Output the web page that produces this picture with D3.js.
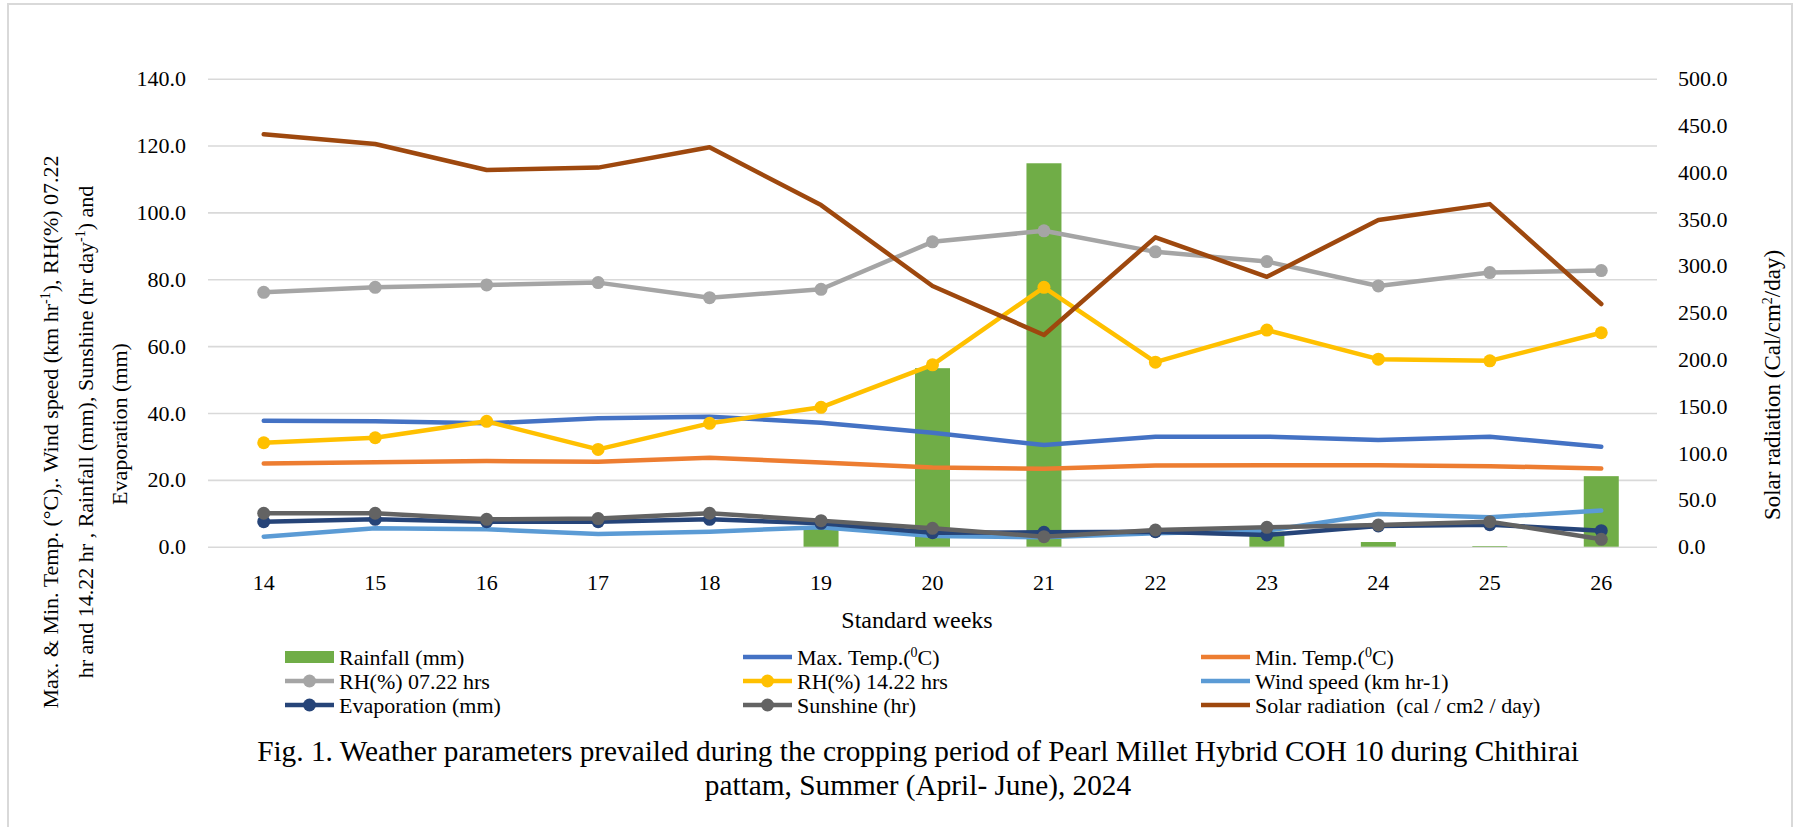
<!DOCTYPE html>
<html>
<head>
<meta charset="utf-8">
<script src="https://cdn.jsdelivr.net/npm/d3@7"></script>
<style>
  html, body { margin: 0; padding: 0; background: #fff; }
</style>
</head>
<body>
<svg id="chart" width="1807" height="827"></svg>
<script>
// Standard weeks (April - June 2024)
const weeks = ["14", "15", "16", "17", "18", "19", "20", "21", "22", "23", "24", "25", "26"];

// Weekly weather parameters
const rainfall    = [0, 0, 0, 0, 0, 5.5, 53.4, 114.7, 0, 4.5, 1.4, 0.2, 21.1];
const maxTemp     = [37.7, 37.5, 36.9, 38.4, 38.9, 37.1, 34.1, 30.4, 32.9, 32.9, 31.9, 32.9, 29.9];
const minTemp     = [24.9, 25.3, 25.6, 25.4, 26.6, 25.2, 23.7, 23.3, 24.3, 24.4, 24.4, 24.1, 23.4];
const rhMorning   = [76.1, 77.6, 78.3, 79.0, 74.5, 77.0, 91.2, 94.5, 88.2, 85.3, 78.0, 82.0, 82.6];
const rhEvening   = [31.1, 32.6, 37.5, 29.1, 36.9, 41.7, 54.4, 77.6, 55.2, 64.8, 56.1, 55.6, 64.0];
const windSpeed   = [3.0, 5.5, 5.2, 3.8, 4.5, 5.8, 3.2, 2.8, 4.0, 4.8, 9.8, 8.8, 10.8];
const evaporation = [7.5, 8.2, 7.5, 7.5, 8.2, 7.0, 4.2, 4.3, 4.5, 3.5, 6.2, 6.6, 4.8];
const sunshine    = [10.0, 10.0, 8.2, 8.4, 10.0, 7.8, 5.5, 3.0, 5.0, 5.8, 6.5, 7.5, 2.2];
const solarRad    = [440.6, 430.2, 402.4, 405.0, 426.7, 365.0, 278.5, 226.2, 330.5, 288.4, 349.0, 366.0, 259.3];

// Axis tick values
const leftTicks  = [0, 20, 40, 60, 80, 100, 120, 140];
const rightTicks = [0, 50, 100, 150, 200, 250, 300, 350, 400, 450, 500];

const SERIF = "'Liberation Serif', 'DejaVu Serif', 'Noto Serif', 'Times New Roman', Times, serif";
const FONT = 22;

const svg = d3.select("#chart")
  .attr("font-family", SERIF)
  .style("font-family", SERIF);

// outer frame
svg.append("rect")
  .attr("x", 8).attr("y", 4).attr("width", 1784).attr("height", 900)
  .attr("fill", "#fff").attr("stroke", "#d9d9d9").attr("stroke-width", 2);

const plot = { left: 208, right: 1657, top: 78.7, bottom: 546.7 };

const x = d3.scaleBand().domain(weeks).range([plot.left, plot.right]);
const xBar = d3.scaleBand().domain(weeks).range([plot.left, plot.right])
  .paddingInner(0.686).paddingOuter(0.343);
const yL = d3.scaleLinear().domain([0, 140]).range([plot.bottom, plot.top]);
const yR = d3.scaleLinear().domain([0, 500]).range([plot.bottom, plot.top]);
const cx = w => x(w) + x.bandwidth() / 2;

function styleAxisText(g) {
  g.select(".domain").remove();
  g.attr("font-family", SERIF).attr("font-size", FONT);
  g.selectAll("text").attr("fill", "#000").style("font-family", SERIF).attr("font-size", FONT);
}

// horizontal gridlines
svg.append("g")
  .attr("transform", `translate(${plot.left},0)`)
  .call(d3.axisLeft(yL).tickValues(leftTicks).tickSize(-(plot.right - plot.left)).tickFormat(""))
  .call(g => g.select(".domain").remove())
  .call(g => g.selectAll("line").attr("stroke", "#d9d9d9").attr("stroke-width", 1.6));

// left axis labels
svg.append("g")
  .attr("transform", `translate(${plot.left},0)`)
  .call(d3.axisLeft(yL).tickValues(leftTicks).tickSize(0).tickPadding(22).tickFormat(d3.format(".1f")))
  .call(styleAxisText);

// right axis labels
svg.append("g")
  .attr("transform", `translate(${plot.right},0)`)
  .call(d3.axisRight(yR).tickValues(rightTicks).tickSize(0).tickPadding(21).tickFormat(d3.format(".1f")))
  .call(styleAxisText);

// bottom axis labels
svg.append("g")
  .attr("transform", `translate(0,${plot.bottom})`)
  .call(d3.axisBottom(x).tickSize(0).tickPadding(28))
  .call(styleAxisText);

// rainfall bars
svg.append("g").selectAll("rect")
  .data(rainfall)
  .join("rect")
  .attr("x", (d, i) => xBar(weeks[i]))
  .attr("width", xBar.bandwidth())
  .attr("y", d => yL(d))
  .attr("height", d => yL(0) - yL(d))
  .attr("fill", "#70ad47");

// line series
const series = [
  { values: maxTemp, color: "#4472c4", marker: false, scale: yL },
  { values: minTemp, color: "#ed7d31", marker: false, scale: yL },
  { values: rhMorning, color: "#a5a5a5", marker: true, scale: yL },
  { values: rhEvening, color: "#ffc000", marker: true, scale: yL },
  { values: windSpeed, color: "#5b9bd5", marker: false, scale: yL },
  { values: evaporation, color: "#264478", marker: true, scale: yL },
  { values: sunshine, color: "#636363", marker: true, scale: yL },
  { values: solarRad, color: "#9e480e", marker: false, scale: yR }
];

series.forEach(s => {
  const line = d3.line().x((d, i) => cx(weeks[i])).y(d => s.scale(d));
  const g = svg.append("g");
  g.append("path")
    .attr("d", line(s.values))
    .attr("fill", "none")
    .attr("stroke", s.color)
    .attr("stroke-width", 4.5)
    .attr("stroke-linejoin", "round")
    .attr("stroke-linecap", "round");
  if (s.marker) {
    g.selectAll("circle").data(s.values).join("circle")
      .attr("cx", (d, i) => cx(weeks[i]))
      .attr("cy", d => s.scale(d))
      .attr("r", 6.5)
      .attr("fill", s.color);
  }
});

// text with superscript parts
function fillParts(t, parts) {
  parts.forEach(p => {
    const s = t.append("tspan").text(p.t);
    if (p.sup) s.attr("font-size", 14).attr("dy", -8);
    if (p.after) s.attr("dy", 8);
  });
  return t;
}
function rotatedLine(xPos, yPos, parts, size) {
  const t = svg.append("text")
    .attr("transform", `translate(${xPos},${yPos}) rotate(-90)`)
    .attr("text-anchor", "middle")
    .attr("font-size", size || FONT)
    .attr("fill", "#000");
  return fillParts(t, parts);
}

// left axis title
rotatedLine(58, 432, [
  { t: "Max. & Min. Temp. (°C),. Wind speed (km hr" }, { t: "-1", sup: true }, { t: "), RH(%) 07.22", after: true }
]);
rotatedLine(92.5, 432, [
  { t: "hr and 14.22 hr , Rainfall (mm), Sunshine (hr day" }, { t: "-1", sup: true }, { t: ") and", after: true }
]);
rotatedLine(127, 424, [{ t: "Evaporation (mm)" }]);

// right axis title
rotatedLine(1780, 385, [
  { t: "Solar radiation (Cal/cm" }, { t: "2", sup: true }, { t: "/day)", after: true }
], 23);

// bottom axis title
svg.append("text")
  .attr("x", 917).attr("y", 628)
  .attr("text-anchor", "middle")
  .attr("font-size", 24)
  .attr("fill", "#000")
  .text("Standard weeks");

// legend
const legendItems = [
  { label: [{ t: "Rainfall (mm)" }], type: "bar", color: "#70ad47" },
  { label: [{ t: "Max. Temp.(" }, { t: "0", sup: true }, { t: "C)", after: true }], type: "line", color: "#4472c4" },
  { label: [{ t: "Min. Temp.(" }, { t: "0", sup: true }, { t: "C)", after: true }], type: "line", color: "#ed7d31" },
  { label: [{ t: "RH(%) 07.22 hrs" }], type: "marker", color: "#a5a5a5" },
  { label: [{ t: "RH(%) 14.22 hrs" }], type: "marker", color: "#ffc000" },
  { label: [{ t: "Wind speed (km hr-1)" }], type: "line", color: "#5b9bd5" },
  { label: [{ t: "Evaporation (mm)" }], type: "marker", color: "#264478" },
  { label: [{ t: "Sunshine (hr)" }], type: "marker", color: "#636363" },
  { label: [{ t: "Solar radiation  (cal / cm2 / day)" }], type: "line", color: "#9e480e" }
];
const legendCols = [285, 743, 1201];
const legendRows = [657, 681, 705];
const symW = 49;

const legend = svg.append("g");
legendItems.forEach((item, i) => {
  const lx = legendCols[i % 3];
  const ly = legendRows[Math.floor(i / 3)];
  const g = legend.append("g").attr("transform", `translate(${lx},${ly})`);
  if (item.type === "bar") {
    g.append("rect").attr("x", 0).attr("y", -6).attr("width", symW).attr("height", 12).attr("fill", item.color);
  } else {
    g.append("line").attr("x1", 0).attr("x2", symW).attr("y1", 0).attr("y2", 0)
      .attr("stroke", item.color).attr("stroke-width", 4.5);
    if (item.type === "marker") {
      g.append("circle").attr("cx", symW / 2).attr("cy", 0).attr("r", 6.5).attr("fill", item.color);
    }
  }
  const t = g.append("text")
    .attr("x", symW + 5).attr("y", 0).attr("dy", "0.35em")
    .attr("font-size", FONT)
    .attr("fill", "#000")
    .style("white-space", "pre");
  fillParts(t, item.label);
});

// figure caption
const caption = svg.append("text")
  .attr("text-anchor", "middle")
  .attr("font-size", 29.3)
  .attr("fill", "#000");
caption.append("tspan").attr("x", 918).attr("y", 761)
  .text("Fig. 1. Weather parameters prevailed during the cropping period of Pearl Millet Hybrid COH 10 during Chithirai");
caption.append("tspan").attr("x", 918).attr("y", 795)
  .text("pattam, Summer (April- June), 2024");
</script>
</body>
</html>
